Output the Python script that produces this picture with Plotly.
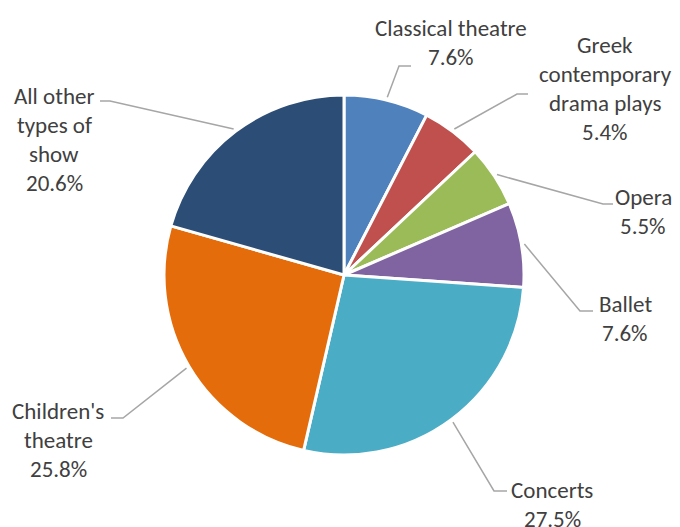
import math
import plotly.graph_objects as go

# ---- data ----
categories = ["Classical theatre", "Greek contemporary drama plays", "Opera", "Ballet",
              "Concerts", "Children's theatre", "All other types of show"]
shares = [7.6, 5.4, 5.5, 7.6, 27.5, 25.8, 20.6]

# ---- style / layout ----
colors = ["#4F81BD", "#C0504D", "#9BBB59", "#8064A2", "#4BACC6", "#E46C0A", "#2C4D75"]
label_lines = [["Classical theatre"], ["Greek", "contemporary", "drama plays"], ["Opera"],
               ["Ballet"], ["Concerts"], ["Children's", "theatre"], ["All other", "types of", "show"]]
# label anchor (center x, first line y) in px, elbow and end of leader in px (screen coords)
label_pos = [(451, 28), (605, 45), (643, 197), (625, 304), (552, 490), (58, 411), (54, 96)]
leader_elbow = [(399, 66), (517, 94), (603, 204), (580, 311), (494, 491), (123, 418), (110, 101)]
leader_end = [(411, 66), (528, 94), (613, 204), (593, 311), (507, 491), (111, 418), (100, 101)]

W, H = 680, 527
OFF = 8  # page body margin
CX, CY, R = 344, 275, 180
LINE_H = 29
FONT = "Carlito, Calibri, Lato, sans-serif"
TXT = "#404040"

def px(x):
    return (x - OFF) / W

def py(y):
    return 1 - (y - OFF) / H

fig = go.Figure(go.Pie(
    labels=categories, values=shares, sort=False, direction="clockwise",
    marker=dict(colors=colors, line=dict(color="white", width=3)),
    textinfo="none", hoverinfo="label+percent", showlegend=False,
    domain=dict(x=[px(CX - R), px(CX + R)], y=[py(CY + R), py(CY - R)]),
))

total = sum(shares)
cum = 0.0
shapes, annotations = [], []
for i, v in enumerate(shares):
    mid = (cum + v / 2) / total * 2 * math.pi
    cum += v
    sx = CX + (R + 3) * math.sin(mid)
    sy = CY - (R + 3) * math.cos(mid)
    ex, ey = leader_elbow[i]
    tx, ty = leader_end[i]
    shapes.append(dict(type="path", xref="paper", yref="paper",
                       path=f"M {px(sx)} {py(sy)} L {px(ex)} {py(ey)} L {px(tx)} {py(ty)}",
                       line=dict(color="#A6A6A6", width=1.5)))
    lines = label_lines[i] + [f"{v / total * 100:.1f}%"]
    lx, ly = label_pos[i]
    for j, t in enumerate(lines):
        annotations.append(dict(text=t, xref="paper", yref="paper", x=px(lx), y=py(ly + j * LINE_H),
                                xanchor="center", yanchor="middle", showarrow=False,
                                font=dict(family=FONT, size=23, color=TXT)))

fig.update_layout(width=W, height=H, margin=dict(l=0, r=0, t=0, b=0),
                  paper_bgcolor="white", plot_bgcolor="white",
                  shapes=shapes, annotations=annotations)
fig.write_html("out.html")
